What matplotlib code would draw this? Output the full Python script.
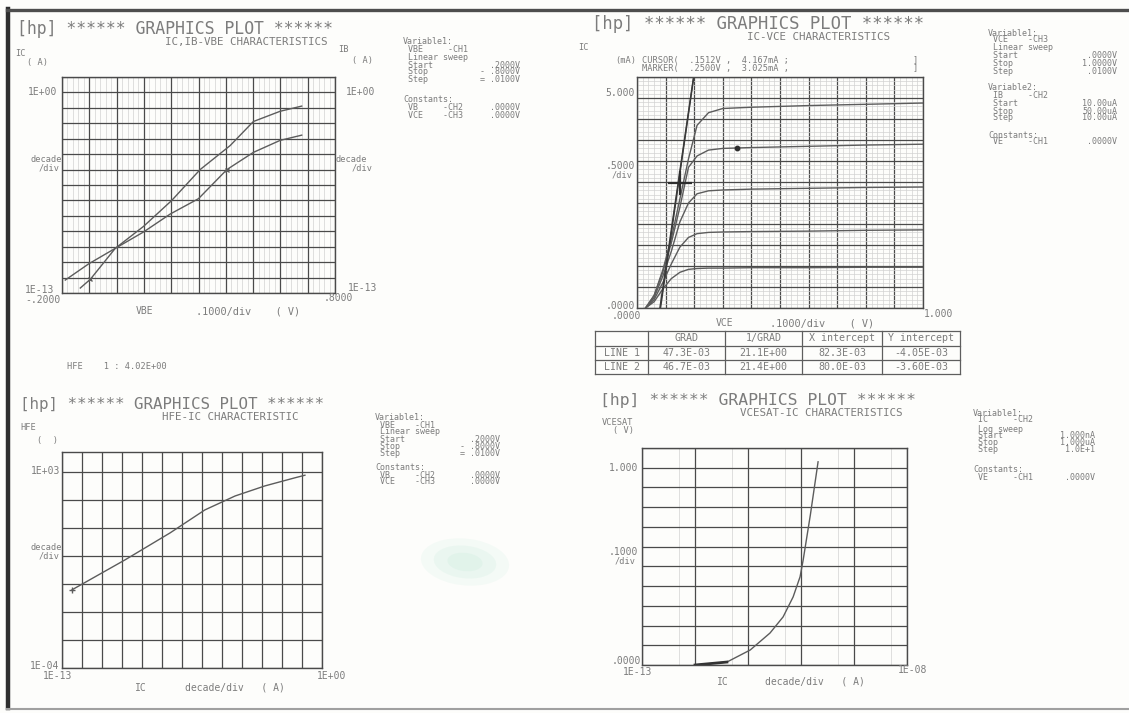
"""Scanned HP 4145 'GRAPHICS PLOT' sheet: four transistor characteristic plots."""

import matplotlib

matplotlib.use("Agg")
import matplotlib.pyplot as plt  # noqa: E402
from matplotlib.lines import Line2D  # noqa: E402
from matplotlib.patches import Ellipse  # noqa: E402
from matplotlib.ticker import LogLocator, MultipleLocator  # noqa: E402

W, H = 1129, 713

# --- panel 1: IC, IB vs VBE (log current) ---
vbe_ic = [-0.188, -0.102, -0.005, 0.099, 0.202, 0.306, 0.416, 0.501, 0.599, 0.678]
ic_vbe = [6.9e-13, 7.8e-12, 7.8e-11, 2.1e-9, 1.0e-7, 1.0e-5, 3.6e-4, 1.3e-2, 6.0e-2, 1.3e-1]
vbe_ib = [-0.133, -0.096, -0.005, 0.099, 0.196, 0.300, 0.404, 0.501, 0.599, 0.678]
ib_vbe = [2.1e-13, 7.8e-13, 7.8e-11, 9.1e-10, 1.3e-8, 1.3e-7, 1.0e-5, 1.3e-4, 7.8e-4, 1.7e-3]

# --- panel 2: IC (mA) vs VCE (V), IB = 10..50 uA ---
vce = [0.03, 0.06, 0.09, 0.12, 0.15, 0.18, 0.21, 0.25, 0.30, 0.40, 0.60, 0.80, 1.00]
ic_10ua = [0.0, 0.15, 0.45, 0.70, 0.85, 0.92, 0.94, 0.95, 0.95, 0.96, 0.96, 0.97, 0.97]
ic_20ua = [0.0, 0.20, 0.60, 1.05, 1.45, 1.68, 1.77, 1.80, 1.81, 1.82, 1.83, 1.85, 1.86]
ic_30ua = [0.0, 0.25, 0.75, 1.35, 2.05, 2.50, 2.72, 2.79, 2.81, 2.83, 2.85, 2.87, 2.88]
ic_40ua = [0.0, 0.30, 0.85, 1.55, 2.40, 3.35, 3.62, 3.76, 3.80, 3.82, 3.85, 3.88, 3.90]
ic_50ua = [0.0, 0.30, 0.90, 1.65, 2.60, 3.55, 4.35, 4.65, 4.75, 4.78, 4.82, 4.85, 4.88]
line_grad = [47.3, 46.7]        # mA/V, from the LINE table
line_xint = [0.0823, 0.0800]    # V
cursor_pt = (0.150, 2.98)
marker_pt = (0.350, 3.80)
table_cols = ["", "GRAD", "1/GRAD", "X intercept", "Y intercept"]
table_rows = [
    ["LINE 1", "47.3E-03", "21.1E+00", "82.3E-03", "-4.05E-03"],
    ["LINE 2", "46.7E-03", "21.4E+00", "80.0E-03", "-3.60E-03"],
]

# --- panel 3: HFE vs IC ---
ic_hfe = [3.2e-13, 1.4e-10, 2.5e-8, 1.4e-6, 4.5e-5, 1.4e-3, 4.5e-2, 1.4e-1]
hfe = [0.062, 0.72, 6.6, 44, 138, 316, 617, 760]

# --- panel 4: VCESAT (V) vs IC ---
ic_sat = [1.0e-12, 4.0e-12, 1.1e-11, 2.6e-11, 4.6e-11, 7.1e-11, 9.6e-11, 1.1e-10, 1.5e-10, 2.1e-10]
vcesat = [0.0, 0.015, 0.076, 0.162, 0.244, 0.345, 0.447, 0.533, 0.76, 1.03]

INK = "#7c7c7c"
GRID = "#4a4a4a"
MINOR = "#d2d2d2"
CURVE = "#5c5c5c"
MONO = "DejaVu Sans Mono"

fig = plt.figure(figsize=(W / 100, H / 100), dpi=100)
fig.patch.set_facecolor("#fdfdfb")


def put(x, y, s, size=6.2, ha="left", color=INK, **kw):
    fig.text(x / W, 1 - y / H, s, fontsize=size, ha=ha, va="center",
             family=MONO, color=color, **kw)


def panel(x0, y0, x1, y1):
    ax = fig.add_axes([x0 / W, 1 - y1 / H, (x1 - x0) / W, (y1 - y0) / H])
    ax.set_facecolor("none")
    for s in ax.spines.values():
        s.set_color(GRID)
        s.set_linewidth(1.0)
    ax.tick_params(which="both", length=0, labelleft=False, labelbottom=False)
    return ax


def grids(ax, minor=True):
    ax.grid(which="major", color=GRID, lw=0.9)
    if minor:
        ax.grid(which="minor", color=MINOR, lw=0.5)
    ax.set_axisbelow(True)


def header(x, y, title_size, sub, sub_x):
    put(x, y, "[hp] ****** GRAPHICS PLOT ******", size=title_size)
    put(sub_x, y + 13.5, sub, size=7.8)


def var_block(x, vx, rows):
    for y, lab, val in rows:
        if lab:
            put(x, y, lab, size=6.0)
        if val:
            put(vx, y, val, size=6.0, ha="right")


# outer scan frame
fig.add_artist(Line2D([8 / W, 8 / W], [1 - 9 / H, 1 - 708 / H], color="#2e2e2e", lw=3.2))
fig.add_artist(Line2D([7 / W, 1.0], [1 - 10 / H, 1 - 10 / H], color="#4e4e4e", lw=2.4))
fig.add_artist(Line2D([7 / W, 1.0], [1 - 709 / H, 1 - 709 / H], color="#a0a0a0", lw=1.5))

# scanner smudge
for w, h, a in [(90, 46, 0.06), (64, 32, 0.07), (36, 18, 0.07)]:
    fig.add_artist(Ellipse((465 / W, 1 - 562 / H), w / W, h / H, angle=-20,
                           color="#6fcfa8", alpha=a, lw=0))

# ---------------- panel 1 ----------------
ax1 = panel(62, 77, 335, 293)
ax1.set_xlim(-0.2, 0.8)
ax1.set_yscale("log")
ax1.set_ylim(1e-13, 1e1)
ax1.xaxis.set_major_locator(MultipleLocator(0.1))
ax1.xaxis.set_minor_locator(MultipleLocator(0.02))
ax1.yaxis.set_major_locator(LogLocator(base=10, numticks=30))
ax1.yaxis.set_minor_locator(LogLocator(base=10, subs=[], numticks=30))
grids(ax1)
ax1.plot(vbe_ic, ic_vbe, color=CURVE, lw=1.0)
ax1.plot(vbe_ib, ib_vbe, color=CURVE, lw=1.0)
ax1.plot(vbe_ib[1], ib_vbe[1], marker="x", ms=3, color=CURVE)
ax1.plot(vbe_ib[6], ib_vbe[6], marker="x", ms=3, color=CURVE)

header(17, 29, 11.9, "IC,IB-VBE CHARACTERISTICS", 165)
put(15, 53, "IC")
put(27, 62, "( A)")
put(338, 50, "IB")
put(352, 60, "( A)")
put(57, 92, "1E+00", size=7, ha="right")
put(62, 159, "decade", ha="right")
put(60, 168, "/div", ha="right")
put(25, 290, "1E-13", size=7)
put(25, 300, "-.2000", size=7)
put(346, 92, "1E+00", size=7)
put(336, 159, "decade")
put(352, 168, "/div")
put(348, 288, "1E-13", size=7)
put(324, 298, ".8000", size=7)
put(136, 311, "VBE", size=7)
put(196, 311, ".1000/div    ( V)", size=7.4)
put(67, 367, "HFE    1 : 4.02E+00")

var_block(403, 520, [(42, "Variable1:", ""), (49, " VBE     -CH1", ""),
                     (57, " Linear sweep", ""), (65, " Start", ".2000V"),
                     (72, " Stop", "- .8000V"), (80, " Step", "= .0100V"),
                     (100, "Constants:", ""), (107, " VB     -CH2", ".0000V"),
                     (115, " VCE    -CH3", ".0000V")])

# ---------------- panel 2 ----------------
ax2 = panel(637, 77, 923, 308)
ax2.set_xlim(0, 1.0)
ax2.set_ylim(0, 5.5)
ax2.xaxis.set_major_locator(MultipleLocator(0.1))
ax2.xaxis.set_minor_locator(MultipleLocator(0.02))
ax2.yaxis.set_major_locator(MultipleLocator(0.5))
ax2.yaxis.set_minor_locator(MultipleLocator(0.1))
grids(ax2)
for ic in (ic_10ua, ic_20ua, ic_30ua, ic_40ua, ic_50ua):
    ax2.plot(vce, ic, color=CURVE, lw=1.0)
for g, x0 in zip(line_grad, line_xint):
    ax2.plot([x0, x0 + 5.5 / g], [0, 5.5], color="#3a3a3a", lw=1.0)
ax2.plot(*cursor_pt, marker="+", ms=17, mew=1.6, color="#2e2e2e")
ax2.plot(*marker_pt, marker="o", ms=3.2, color="#2e2e2e")

header(592, 24, 12.4, "IC-VCE CHARACTERISTICS", 747)
put(578, 48, "IC")
put(615, 60, "(mA)")
put(642, 60, "CURSOR(  .1512V ,  4.167mA ;")
put(642, 68, "MARKER(  .2500V ,  3.025mA ,")
put(913, 60, "]")
put(913, 68, "]")
put(635, 93, "5.000", size=7, ha="right")
put(635, 166, ".5000", size=7, ha="right")
put(633, 175, "/div", ha="right")
put(635, 306, ".0000", size=7, ha="right")
put(612, 316, ".0000", size=7)
put(924, 314, "1.000", size=7)
put(716, 323, "VCE", size=7)
put(770, 323, ".1000/div    ( V)", size=7.4)

# LINE table under panel 2
tx = [595, 648, 725, 802, 882, 960]
ty = [331, 346, 360, 374]
for x in tx:
    fig.add_artist(Line2D([x / W] * 2, [1 - ty[0] / H, 1 - ty[-1] / H], color="#5e5e5e", lw=0.9))
for y in ty:
    fig.add_artist(Line2D([tx[0] / W, tx[-1] / W], [1 - y / H] * 2, color="#5e5e5e", lw=0.9))
for j, c in enumerate(table_cols):
    put((tx[j] + tx[j + 1]) / 2, (ty[0] + ty[1]) / 2, c, size=7.2, ha="center")
for i, row in enumerate(table_rows):
    for j, c in enumerate(row):
        put((tx[j] + tx[j + 1]) / 2, (ty[i + 1] + ty[i + 2]) / 2, c, size=7.2, ha="center")

var_block(988, 1117, [(33, "Variable1:", ""), (40, " VCE    -CH3", ""),
                      (48, " Linear sweep", ""), (56, " Start", ".0000V"),
                      (63, " Stop", "1.0000V"), (71, " Step", ".0100V"),
                      (87, "Variable2:", ""), (95, " IB     -CH2", ""),
                      (103, " Start", "10.00uA"), (111, " Stop", "50.00uA"),
                      (118, " Step", "10.00uA"),
                      (135, "Constants:", ""), (142, " VE     -CH1", ".0000V")])

# ---------------- panel 3 ----------------
ax3 = panel(62, 452, 322, 668)
ax3.set_xscale("log")
ax3.set_yscale("log")
ax3.set_xlim(1e-13, 1e0)
ax3.set_ylim(1e-4, 10 ** 3.71)
for a in (ax3.xaxis, ax3.yaxis):
    a.set_major_locator(LogLocator(base=10, numticks=30))
    a.set_minor_locator(LogLocator(base=10, subs=[], numticks=30))
grids(ax3, minor=False)
ax3.plot(ic_hfe, hfe, color=CURVE, lw=1.0)
ax3.plot(ic_hfe[0], hfe[0], marker="+", ms=5, color=CURVE)

header(20, 404, 11.4, "HFE-IC CHARACTERISTIC", 162)
put(20, 428, "HFE")
put(37, 440, "(  )")
put(60, 471, "1E+03", size=7, ha="right")
put(62, 547, "decade", ha="right")
put(60, 556, "/div", ha="right")
put(30, 666, "1E-04", size=7)
put(43, 676, "1E-13", size=7)
put(135, 688, "IC", size=7)
put(185, 688, "decade/div   ( A)", size=7)
put(317, 676, "1E+00", size=7)

var_block(375, 500, [(418, "Variable1:", ""), (425, " VBE    -CH1", ""),
                     (432, " Linear sweep", ""), (440, " Start", ".2000V"),
                     (447, " Stop", "- .8000V"), (454, " Step", "= .0100V"),
                     (468, "Constants:", ""), (475, " VB     -CH2", ".0000V"),
                     (482, " VCE    -CH3", ".0000V")])

# ---------------- panel 4 ----------------
ax4 = panel(642, 448, 907, 665)
ax4.set_xscale("log")
ax4.set_xlim(1e-13, 1e-8)
ax4.set_ylim(0, 1.1)
ax4.xaxis.set_major_locator(LogLocator(base=10, numticks=30))
ax4.xaxis.set_minor_locator(LogLocator(base=10, subs=[5], numticks=30))
ax4.yaxis.set_major_locator(MultipleLocator(0.1))
grids(ax4)
ax4.plot(ic_sat, vcesat, color=CURVE, lw=1.0)
ax4.plot(ic_sat[:2], vcesat[:2], color="#333333", lw=2.0)

header(600, 400, 11.8, "VCESAT-IC CHARACTERISTICS", 740)
put(602, 423, "VCESAT")
put(613, 431, "( V)")
put(638, 468, "1.000", size=7, ha="right")
put(638, 552, ".1000", size=7, ha="right")
put(636, 561, "/div", ha="right")
put(641, 661, ".0000", size=7, ha="right")
put(623, 672, "1E-13", size=7)
put(898, 670, "1E-08", size=7)
put(717, 682, "IC", size=7)
put(765, 682, "decade/div   ( A)", size=7)

var_block(973, 1095, [(413, "Variable1:", ""), (420, " IC     -CH2", ""),
                      (429, " Log sweep", ""), (436, " Start", "1.000nA"),
                      (443, " Stop", "1.000uA"), (450, " Step", "1.0E+1"),
                      (469, "Constants:", ""), (477, " VE     -CH1", ".0000V")])

fig.savefig("out.png", dpi=100, facecolor=fig.get_facecolor())
